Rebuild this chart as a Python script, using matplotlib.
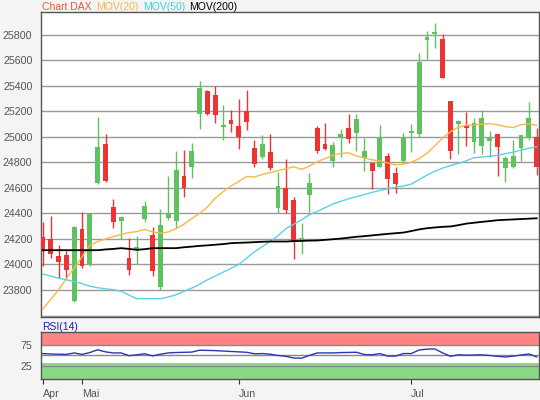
import matplotlib
matplotlib.use("Agg")
import matplotlib.pyplot as plt
import numpy as np

# daily candles
opens = [24219, 24198, 24068, 24076, 23712, 24279, 24005, 24636, 24943, 24448,
         24340, 24050, 24125, 24355, 24232, 23823, 24365, 24344, 24693, 24766,
         25177, 25360, 25326, 25080, 25131, 25084, 25201, 24909, 24840, 24883,
         24440, 24597, 24506, 24198, 24545, 25066, 24943, 24810, 24995, 25073,
         25032, 24831, 24797, 24761, 24849, 24719, 24813, 25027, 25021, 25762,
         25803, 25770, 25280, 25097, 25084, 24961, 24930, 24969, 25021, 24753,
         24766, 24912, 24993, 24995]
highs = [24336, 24380, 24154, 24102, 24300, 24409, 24405, 25157, 25021, 24513,
         24383, 24205, 24225, 24497, 24297, 24432, 24693, 24888, 24896, 24948,
         25438, 25365, 25396, 25248, 25209, 25300, 25365, 24974, 25013, 25020,
         24727, 24826, 24526, 24325, 24714, 25086, 25112, 24961, 25058, 25177,
         25177, 24987, 24797, 25092, 24870, 24761, 25027, 25100, 25657, 25830,
         25894, 25808, 25282, 25131, 25196, 25151, 25209, 25047, 25021, 24852,
         24974, 25013, 25274, 25073]
lows = [23990, 24050, 23893, 23886, 23705, 23972, 23985, 24630, 24649, 24289,
        24200, 23915, 24005, 24330, 23912, 23802, 24350, 24285, 24532, 24675,
        25058, 25170, 25110, 24975, 25039, 24901, 25052, 24761, 24830, 24740,
        24405, 24401, 24040, 24085, 24414, 24875, 24896, 24760, 24840, 24948,
        24891, 24732, 24589, 24760, 24550, 24558, 24797, 24883, 24995, 25612,
        25698, 25460, 24830, 24862, 24928, 24870, 24865, 24844, 24696, 24649,
        24753, 24810, 24974, 24701]
closes = [24125, 24084, 24016, 23953, 24295, 23985, 24401, 24922, 24654, 24336,
          24370, 23953, 24135, 24455, 23946, 24310, 24400, 24740, 24597, 24888,
          25386, 25177, 25170, 25090, 25099, 25000, 25118, 24787, 24943, 24755,
          24615, 24427, 24180, 24206, 24636, 24891, 24904, 24935, 25026, 24982,
          25136, 24891, 24735, 24995, 24667, 24631, 24995, 25045, 25586, 25782,
          25821, 25461, 24890, 25125, 25066, 25112, 25144, 24995, 24917, 24836,
          24852, 25011, 25151, 24761]

ma20 = [23651, 23725, 23802, 23890, 23972, 24060, 24150, 24180, 24200, 24219,
        24235, 24250, 24258, 24275, 24255, 24245, 24255, 24280, 24315, 24360,
        24400, 24450, 24520, 24570, 24615, 24650, 24690, 24685, 24705, 24720,
        24735, 24750, 24766, 24745, 24770, 24805, 24830, 24855, 24870, 24875,
        24850, 24835, 24820, 24812, 24795, 24780, 24785, 24800, 24830, 24870,
        24930, 24990, 25040, 25075, 25090, 25092, 25100, 25104, 25095, 25080,
        25073, 25095, 25104, 25090]
ma50 = [23925, 23910, 23893, 23880, 23867, 23850, 23830, 23818, 23810, 23803,
        23790, 23760, 23732, 23732, 23732, 23732, 23745, 23763, 23790, 23815,
        23845, 23880, 23910, 23940, 23970, 24000, 24050, 24100, 24140, 24180,
        24225, 24280, 24315, 24350, 24390, 24415, 24445, 24474, 24495, 24515,
        24531, 24548, 24565, 24580, 24592, 24605, 24615, 24630, 24665, 24700,
        24730, 24755, 24775, 24792, 24812, 24836, 24842, 24848, 24855, 24868,
        24880, 24896, 24910, 24922]
ma200 = [24112, 24112, 24112, 24112, 24112, 24112, 24112, 24112, 24118, 24122,
         24128, 24122, 24115, 24120, 24128, 24128, 24128, 24128, 24135, 24140,
         24146, 24150, 24155, 24160, 24167, 24170, 24172, 24175, 24178, 24180,
         24180, 24180, 24183, 24185, 24187, 24188, 24193, 24198, 24203, 24210,
         24217, 24222, 24228, 24234, 24240, 24245, 24250, 24262, 24275, 24284,
         24290, 24295, 24298, 24308, 24320, 24327, 24334, 24340, 24347, 24350,
         24353, 24356, 24359, 24362]
rsi = [54.5, 53.5, 53, 52.5, 56, 52.5, 57, 63.5, 58.5, 56,
       56, 49.5, 51.5, 54, 49, 53, 56, 57, 57.5, 58,
       62.5, 62, 61.5, 60.5, 59.5, 58.5, 57.5, 54, 54.5, 53,
       50, 48, 44, 43.5, 50, 56, 56, 56, 56.8, 57.2,
       57.6, 52.3, 51.5, 54.5, 48.5, 48.5, 54.5, 54.5, 63, 65,
       65.5, 56, 48, 51.5, 50.8, 51, 51.5, 50, 48, 46.5,
       48.5, 51, 53.5, 46.5]

month_pos = [0, 5, 25, 47]
month_labels = ["Apr", "Mai", "Jun", "Jul"]
price_ticks = list(range(23600, 25801, 200))

plt.rcParams['font.family'] = ['Liberation Sans', 'DejaVu Sans']

green = '#5fc15f'
red = '#ee3333'
grid_c = '#999999'
frame_c = '#555555'
label_c = '#555555'
fs = 7.7

fig = plt.figure(figsize=(5.4, 4.0), dpi=100, facecolor='#f4f4f4')
ax = fig.add_axes([0.0754, 0.2063, 0.9233, 0.7628])
ax2 = fig.add_axes([0.0754, 0.0518, 0.9233, 0.1175], sharex=ax)

x = np.arange(len(opens))
o = np.array(opens)
c = np.array(closes)
cols = np.where(c >= o, green, red)

ax.vlines(x, lows, highs, colors=cols, lw=1, zorder=3)
ax.bar(x, c - o, bottom=o, width=0.62, color=cols, zorder=4)
ax.plot(x, ma20, color='#f7b945', lw=1, zorder=5)
ax.plot(x, ma50, color='#5ad2e6', lw=1, zorder=5)
ax.plot(x, ma200, color='black', lw=1.3, zorder=5)

ax.set_xlim(-0.27, 63.33)
ax.set_ylim(23585, 25975)
ax.set_yticks(price_ticks)
ax.set_yticklabels(['' if v == 23600 else str(v) for v in price_ticks])
ax.yaxis.grid(True, color=grid_c, lw=1)
ax.set_axisbelow(True)
ax.tick_params(axis='y', length=0, pad=6, labelsize=fs, labelcolor=label_c)
ax.tick_params(axis='x', bottom=False, labelbottom=False)
ax.set_facecolor('white')

# RSI panel
ax2.set_facecolor('white')
ax2.axhspan(75, 110, color='#ff8585', lw=0, zorder=1)
ax2.axhspan(-10, 32, color='#88d888', lw=0, zorder=1)
for lvl in [25, 50, 75]:
    ax2.axhline(lvl, color='#888888', lw=1, zorder=2)
ax2.plot(x, rsi, color='#2f35b0', lw=1, zorder=3)
ax2.set_ylim(-6.5, 105)
ax2.set_yticks([25, 75])
ax2.set_yticklabels(['25', '75'])
ax2.tick_params(axis='y', length=0, pad=6, labelsize=fs, labelcolor=label_c)
ax2.set_xticks(month_pos)
ax2.set_xticklabels(month_labels, ha='left')
ax2.tick_params(axis='x', length=3.3, color='#333333', pad=4, labelsize=fs,
                labelcolor=label_c)

for a in (ax, ax2):
    for s in a.spines.values():
        s.set_color(frame_c)
        s.set_linewidth(1)

# legend line on top
fig.text(41.7 / 540, 0.975, "Chart DAX", color='#e8583e', fontsize=7.5, va='baseline')
fig.text(95.7 / 540, 0.975, "MOV(20)", color='#f7b945', fontsize=7.5, va='baseline')
fig.text(142.7 / 540, 0.975, "MOV(50)", color='#3fcde6', fontsize=7.5, va='baseline')
fig.text(189.3 / 540, 0.975, "MOV(200)", color='black', fontsize=7.5, va='baseline')
fig.text(41.7 / 540, 0.175, "RSI(14)", color='#1a1acc', fontsize=7.5, va='baseline')

fig.savefig("out.png", dpi=100, facecolor=fig.get_facecolor())
